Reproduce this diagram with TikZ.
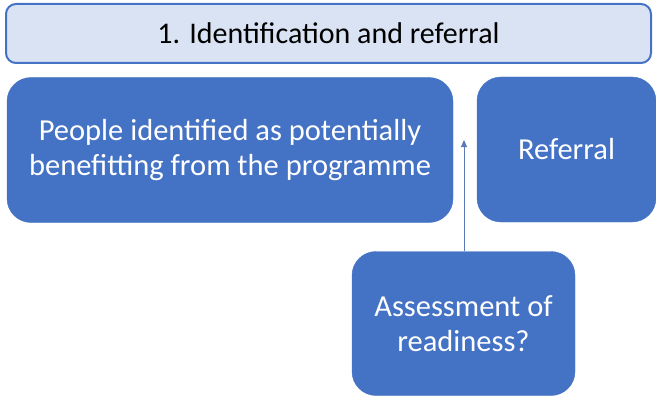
\documentclass[tikz,border=0pt]{standalone}
\usepackage{fontspec}
\setmainfont{Carlito}
\usetikzlibrary{arrows.meta}
\definecolor{boxblue}{HTML}{4472C4}
\definecolor{headfill}{HTML}{DAE3F3}
\definecolor{linkcol}{HTML}{5B7BB8}
\tikzset{
  header/.style={draw=boxblue, line width=2pt, fill=headfill, rounded corners=10pt,
    text=black, inner sep=0pt, font=\fontsize{30}{34}\selectfont},
  stagebox/.style={fill=boxblue, draw=boxblue, rounded corners=24pt, text=white,
    inner sep=0pt, align=center, font=\fontsize{30.5}{35}\selectfont},
  link/.style={draw=linkcol, line width=0.9pt, -{Triangle[length=7pt,width=6pt]}}
}
\begin{document}
\begin{tikzpicture}[x=1pt,y=-1pt]
  \useasboundingbox (0,0) rectangle (656,396);
  % stage header
  \node[header, minimum width=645pt, minimum height=59pt] (head) at (328.5,33.5)
    {1. Identification and referral};
  % stage steps
  \node[stagebox, minimum width=446pt, minimum height=145pt] (people) at (230,150)
    {People identified as potentially\\benefitting from the programme};
  \node[stagebox, minimum width=179pt, minimum height=145pt] (referral) at (566.5,149.5)
    {Referral};
  \node[stagebox, minimum width=223pt, minimum height=144pt] (assess) at (463.5,323.5)
    {Assessment of\\readiness?};
  \coordinate (gap) at (464,140);
  \draw[link] (assess.north -| gap) -- (gap);
\end{tikzpicture}
\end{document}
